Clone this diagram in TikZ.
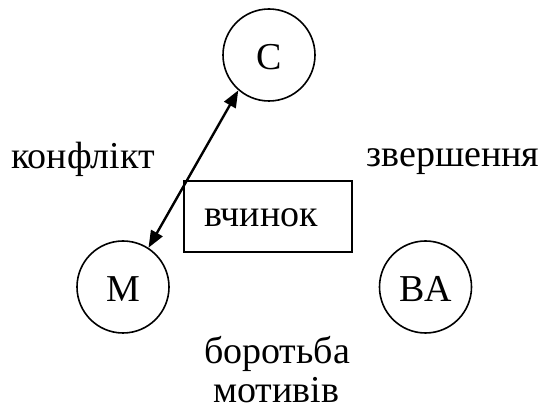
\documentclass[tikz,border=0pt]{standalone}
\usepackage{fontspec}
\setmainfont{Liberation Serif}
\usetikzlibrary{arrows.meta}
\begin{document}
\begin{tikzpicture}[x=1pt,y=1pt,
  ring/.style={draw, circle, line width=1.6pt, minimum size=92pt, inner sep=0pt},
  txt/.style={anchor=base, inner sep=0pt, font=\fontsize{38}{44}\selectfont},
  box/.style={draw, line width=1.6pt, minimum width=168pt, minimum height=71pt, inner sep=0pt},
  link/.style={line width=2.4pt, {Triangle[length=17pt,width=13pt]}-{Triangle[length=17pt,width=13pt]}}]
\useasboundingbox (0,0) rectangle (544,412);
\node[ring] (C) at (269,357) {};
\node[ring] (M) at (123,125) {};
\node[ring] (BA) at (425.5,125) {};
\node[box] (V) at (268,195.5) {};
\node[txt] (tC) at (269,342) {C};
\node[txt] (tM) at (123,110) {M};
\node[txt] (tBA) at (425.5,110) {BA};
\node[txt] (tV) at (261,185) {вчинок};
\node[txt] (k) at (83,243) {конфлікт};
\node[txt] (z) at (453,245) {звершення};
\node[txt] (b) at (277,48) {боротьба};
\node[txt] (m) at (276,9) {мотивів};
\draw[link] (M.57) -- (C.-131);
\end{tikzpicture}
\end{document}
